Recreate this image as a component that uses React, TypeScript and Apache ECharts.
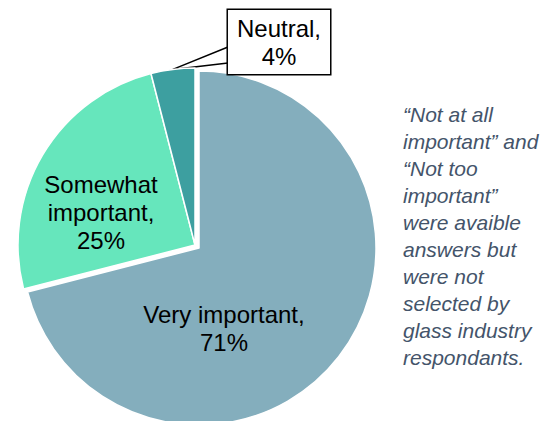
import React, { useEffect, useRef } from "react";
import * as echarts from "echarts";

const categories = ["Very important", "Somewhat important", "Neutral"];
const values = [71, 25, 4];
const colors = ["#84AEBD", "#66E6BC", "#3D9FA0"];
const explodedIndex = 0;
const noteLines = [
  "\u201CNot at all",
  "important\u201D and",
  "\u201CNot too",
  "important\u201D",
  "were avaible",
  "answers but",
  "were not",
  "selected by",
  "glass industry",
  "respondants.",
];

export default function App() {
  const ref = useRef<HTMLDivElement>(null);
  useEffect(() => {
    if (!ref.current) return;
    const chart = echarts.init(ref.current, undefined, { renderer: "svg" });
    const font = "Arial, 'Liberation Sans', sans-serif";
    const baseLabel = {
      show: true,
      position: "inside",
      formatter: (p: any) =>
        p.dataIndex === 1
          ? `Somewhat\nimportant,\n${p.value}%`
          : `${p.name},\n${p.value}%`,
      color: "#000000",
      fontFamily: font,
      fontSize: 24,
      lineHeight: 28,
      align: "center",
    };
    const makeData = (visible: (i: number) => boolean) =>
      categories.map((name, i) => {
        const item: any = {
          name,
          value: values[i],
          itemStyle: visible(i)
            ? { color: colors[i], borderColor: "#ffffff", borderWidth: 1.5 }
            : { color: "rgba(0,0,0,0)", borderWidth: 0 },
        };
        if (!visible(i)) item.label = { show: false };
        if (visible(i) && i === 2) {
          item.label = {
            position: "outside",
            backgroundColor: "#ffffff",
            borderColor: "#000000",
            borderWidth: 1.5,
            padding: [4, 9],
          };
          item.labelLine = {
            show: true,
            length: 10,
            length2: 10,
            smooth: false,
            lineStyle: { color: "#000000", width: 1.5 },
          };
        }
        return item;
      });
    const labelLayout = (params: any) => {
      if (params.dataIndex === 0) {
        return { x: 224, y: 328, align: "center", verticalAlign: "middle" };
      }
      if (params.dataIndex === 1) {
        return { x: 101, y: 212, align: "center", verticalAlign: "middle" };
      }
      if (params.dataIndex === 2) {
        const pts = params.labelLinePoints;
        const tip = pts ? pts[0] : [173, 69];
        return {
          x: 279,
          y: 42,
          align: "center",
          verticalAlign: "middle",
          labelLinePoints: [[228, 47], tip, [228, 63]],
        };
      }
      return {};
    };
    const common = {
      type: "pie",
      radius: 177,
      startAngle: 90,
      clockwise: true,
      silent: true,
      emphasis: { disabled: true },
      label: baseLabel,
      labelLine: { show: false },
      labelLayout,
    };
    chart.setOption({
      animation: false,
      backgroundColor: "#ffffff",
      series: [
        {
          ...common,
          center: [199, 248],
          data: makeData((i) => i === explodedIndex),
        },
        {
          ...common,
          center: [195, 245],
          data: makeData((i) => i !== explodedIndex),
        },
      ],
      graphic: [
        {
          type: "text",
          left: 403,
          top: 101,
          style: {
            text: noteLines.join("\n"),
            font: `italic 21px ${font}`,
            fill: "#44546A",
            lineHeight: 27,
          },
        },
      ],
    });
    return () => chart.dispose();
  }, []);
  return (
    <div
      ref={ref}
      style={{ position: "fixed", left: 0, top: 0, width: 546, height: 421 }}
    />
  );
}
